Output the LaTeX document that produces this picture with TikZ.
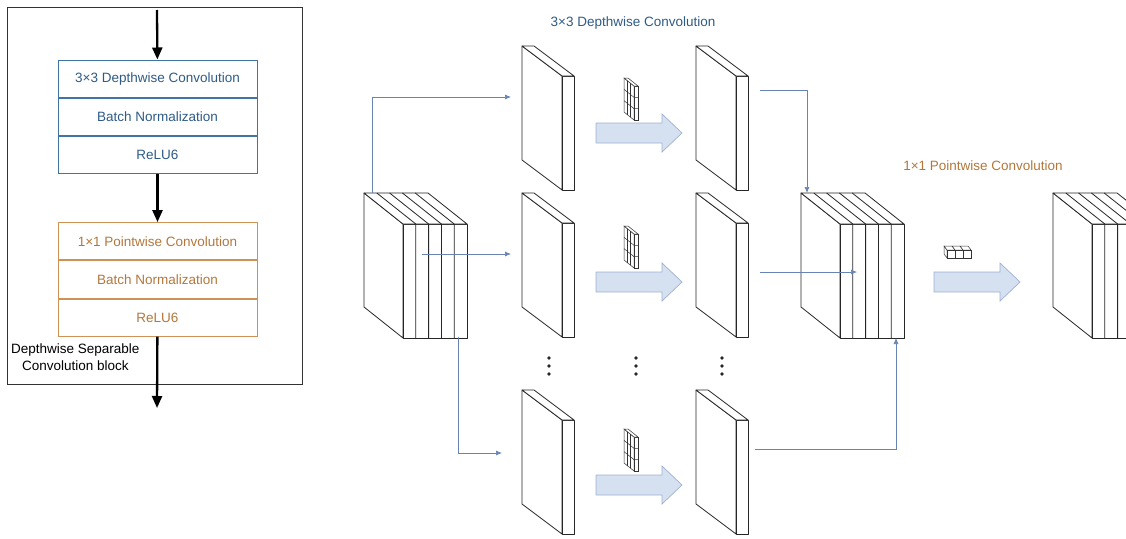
\documentclass[tikz,border=0pt]{standalone}
\usepackage{fontspec}
\setmainfont{Liberation Sans}
\usepackage{xcolor}
\usepackage{tikz}
\usetikzlibrary{arrows.meta,positioning}

\definecolor{dwline}{HTML}{3F74A3}
\definecolor{dwtxt}{HTML}{2E5B86}
\definecolor{pwline}{HTML}{CF9156}
\definecolor{pwtxt}{HTML}{B3773B}
\definecolor{linkc}{HTML}{6884B6}
\definecolor{fatfill}{HTML}{D5E0F1}
\definecolor{fatline}{HTML}{9FB2D3}

\tikzset{
  edge/.style={draw=black!85, line width=0.8pt, line join=round},
  slab/.style={edge, fill=white},
  kern/.style={draw=black!80, fill=white, line width=0.5pt},
  kernline/.style={draw=black!80, line width=0.5pt},
  fat/.style={draw=fatline, fill=fatfill, line width=0.7pt},
  link/.style={draw=linkc, line width=0.7pt, -{Latex[length=6pt,width=5pt]}},
  blk/.style={draw=black, line width=2.3pt, -{Triangle[length=12pt,width=10pt]}},
  layerbox/.style={minimum width=199pt, minimum height=37.3pt, inner sep=0pt, line width=0.9pt},
  dwbox/.style={layerbox, draw=dwline, text=dwtxt},
  pwbox/.style={layerbox, draw=pwline, text=pwtxt},
  % one feature map, seen from the left
  fmap/.pic={
    \filldraw[slab] (0,0) -- (40,30) -- (40,144) -- (0,114) -- cycle;
    \filldraw[slab] (40,30) rectangle (52,144);
    \filldraw[slab] (0,0) -- (12,0) -- (52,30) -- (40,30) -- cycle;
  },
  % stack of five feature maps
  fstack/.pic={
    \filldraw[slab] (0,0) -- (39,31) -- (39,145) -- (0,114) -- cycle;
    \filldraw[slab] (39,31) rectangle (103,145);
    \filldraw[slab] (0,0) -- (64,0) -- (103,31) -- (39,31) -- cycle;
    \foreach \k in {1,...,4}
      \draw[edge] ({12.8*\k},0) -- ({39+12.8*\k},31) -- ({39+12.8*\k},145);
  },
  % 3x3 depthwise kernel
  dwk/.pic={
    \filldraw[kern] (0,0) -- (10,8) -- (10,42) -- (0,34) -- cycle;
    \filldraw[kern] (10,8) rectangle (14,42);
    \filldraw[kern] (0,0) -- (4,0) -- (14,8) -- (10,8) -- cycle;
    \foreach \u in {1,2}
      \draw[kernline] ({10*\u/3},{8*\u/3}) -- ++(0,34);
    \foreach \v in {1,2}
      \draw[kernline] (0,{34*\v/3}) -- (10,{8+34*\v/3}) -- (14,{8+34*\v/3});
  },
  % 1x1 pointwise kernel
  pwk/.pic={
    \filldraw[kern] (0,0) -- (3,4) -- (3,12) -- (0,8) -- cycle;
    \foreach \k in {0,1,2} {
      \filldraw[kern] ({8*\k},0) -- ({8*\k+8},0) -- ({8*\k+11},4) -- ({8*\k+3},4) -- cycle;
      \filldraw[kern] ({8*\k+3},4) rectangle ({8*\k+11},12);
    }
  },
  fatarrow/.pic={
    \filldraw[fat] (0,-10) -- (66,-10) -- (66,-19) -- (86,0) -- (66,19) -- (66,10) -- (0,10) -- cycle;
  }
}

\begin{document}
\begin{tikzpicture}[x=1pt, y=-1pt, font=\fontsize{13.5}{17}\selectfont]
  \useasboundingbox (0,0) rectangle (1126,538);

  % ---- left panel: the block ----
  \draw[line width=1pt, black!80] (7,7) rectangle (302,384);
  \node[dwbox] (dw) at (157.5,78.6) {3×3 Depthwise Convolution};
  \node[dwbox, below=0pt of dw] (bn1) {Batch Normalization};
  \node[dwbox, below=0pt of bn1] (relu1) {ReLU6};
  \node[pwbox, below=48pt of relu1] (pw) {1×1 Pointwise Convolution};
  \node[pwbox, below=0pt of pw] (bn2) {Batch Normalization};
  \node[pwbox, below=0pt of bn2] (relu2) {ReLU6};
  \coordinate (src) at (157,10);
  \coordinate (sink) at (157,408);
  \draw[blk] (src) -- (dw);
  \draw[blk] (relu1) -- (pw);
  \draw[blk] (relu2) -- (sink);
  \node[anchor=north west, align=left, inner sep=0pt] (blocklbl) at (11,344)
    {Depthwise Separable\\\hspace*{11pt}Convolution block};

  % ---- right panel ----
  \node[text=dwtxt] (dwlbl) at (633,23) {3×3 Depthwise Convolution};
  \node[text=pwtxt] (pwlbl) at (983,166) {1×1 Pointwise Convolution};

  \pic at (364,193) {fstack};
  \foreach \y in {46,193,390} {
    \pic at (522,\y) {fmap};
    \pic at (696,\y) {fmap};
  }
  \foreach \y in {78,226,429}
    \pic at (624,\y) {dwk};
  \foreach \y in {133,282,485}
    \pic at (596,\y) {fatarrow};
  \foreach \x in {549,636,722}
    \foreach \y in {358,366,374}
      \fill[black!85] (\x,\y) circle (1.9);

  \pic at (801,193) {fstack};
  \pic at (944,246) {pwk};
  \pic at (934,282) {fatarrow};
  \begin{scope}
    \clip (0,0) rectangle (1126,538);
    \pic at (1053,193) {fstack};
  \end{scope}

  % connectors
  \coordinate (i1) at (372,193);
  \coordinate (a1) at (511,97);
  \coordinate (i2) at (422,254);
  \coordinate (a2) at (511,254);
  \coordinate (i3) at (458,337);
  \coordinate (a3) at (502,453);
  \coordinate (b1) at (760,90);
  \coordinate (m1) at (807,193);
  \coordinate (b2) at (760,272);
  \coordinate (m2) at (857,272);
  \coordinate (b3) at (755,449);
  \coordinate (m3) at (896,338);
  \draw[link] (i1) |- (a1);
  \draw[link] (i2) -- (a2);
  \draw[link] (i3) |- (a3);
  \draw[link] (b1) -| (m1);
  \draw[link] (b2) -- (m2);
  \draw[link] (b3) -| (m3);
\end{tikzpicture}
\end{document}
